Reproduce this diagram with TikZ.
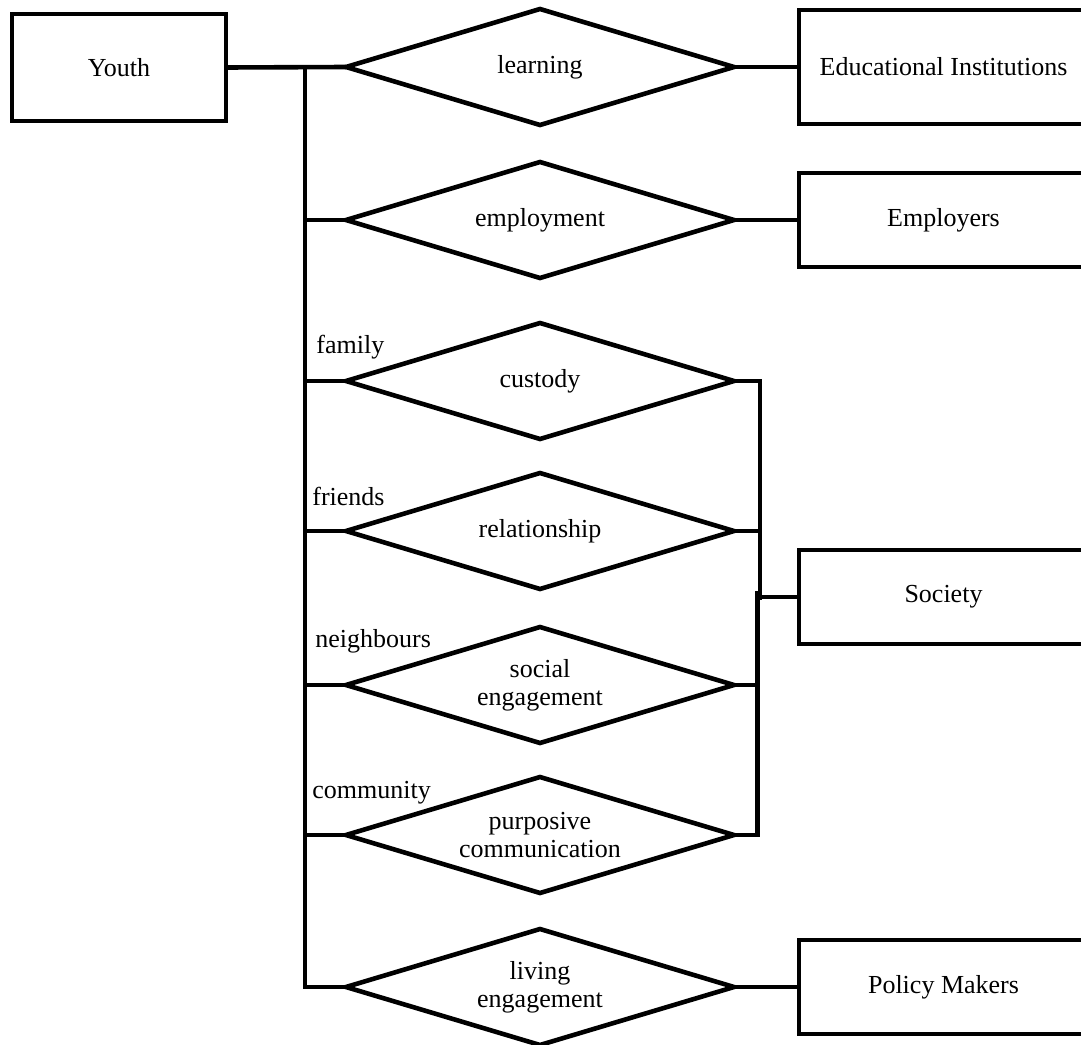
\documentclass[tikz,border=0pt]{standalone}
\usepackage{fontspec}
\setmainfont{Liberation Serif}
\usepackage{tikz}
\usetikzlibrary{positioning,shapes.geometric}
\newcommand*\diagfont{\fontsize{13}{14}\selectfont}
\newcommand*\diagline{2.3pt}
\tikzstyle{entity}=[draw,line width=\diagline,inner sep=0pt,outer sep=0pt,minimum width=144.5pt,minimum height=47pt,font=\diagfont]
\tikzstyle{relation}=[draw,diamond,line width=\diagline,inner sep=0pt,outer sep=0pt,minimum width=194pt,minimum height=58pt,shape aspect=3.35,align=center,font=\diagfont]
\tikzstyle{role}=[anchor=base west,inner sep=0pt,font=\diagfont]
\tikzstyle{link}=[line width=\diagline]

\begin{document}
\begin{tikzpicture}[x=0.5pt,y=-0.5pt]
      \useasboundingbox (0,0) rectangle (1081,1044);
      \clip (0,0) rectangle (1081,1044);
      \node (Y) [entity, minimum width=107pt, minimum height=53.5pt] at (119,67.5) {Youth};
      \node (A) [relation] at (540,67) {learning};
      \node (B) [relation] at (540,220) {employment};
      \node (C) [relation] at (540,381) {custody};
      \node (D) [relation] at (540,531) {relationship};
      \node (E) [relation] at (540,685) {social\\engagement};
      \node (F) [relation] at (540,835) {purposive\\communication};
      \node (G) [relation] at (540,987) {living\\engagement};
      \node (H) [entity, right=32.5pt of A, minimum height=57pt] {Educational Institutions};
      \node (I) [entity, right=32.5pt of B] {Employers};
      \node (K) [entity, right=32.5pt of G] {Policy Makers};
      \coordinate (T) at (305,67);
      \coordinate (U) at (760,600);
      \coordinate (V) at (757.5,591);
      \coordinate (W) at (757.5,597);
      \node (S) [entity, right=20.75pt of W] {Society};
      \node (P) [role] at (316,353) {family};
      \node (Q) [role] at (312,505) {friends};
      \node (R) [role] at (315,647) {neighbours};
      \node (O) [role] at (312,798) {community};
      \draw[link] (Y.east) -- (A.west);
      \draw[link] (T) |- (G.west);
      \draw[link] (T |- B.west) -- (B.west);
      \draw[link] (T |- C.west) -- (C.west);
      \draw[link] (T |- D.west) -- (D.west);
      \draw[link] (T |- E.west) -- (E.west);
      \draw[link] (T |- F.west) -- (F.west);
      \draw[link] (A.east) -- (H.west);
      \draw[link] (B.east) -- (I.west);
      \draw[link] (G.east) -- (K.west);
      \draw[link] (C.east) -| (U);
      \draw[link] (D.east) -- (D.east -| U);
      \draw[link] (F.east) -| (V);
      \draw[link] (E.east) -- (E.east -| V);
      \draw[link] (W) -- (S.west);
    \end{tikzpicture}
\end{document}
